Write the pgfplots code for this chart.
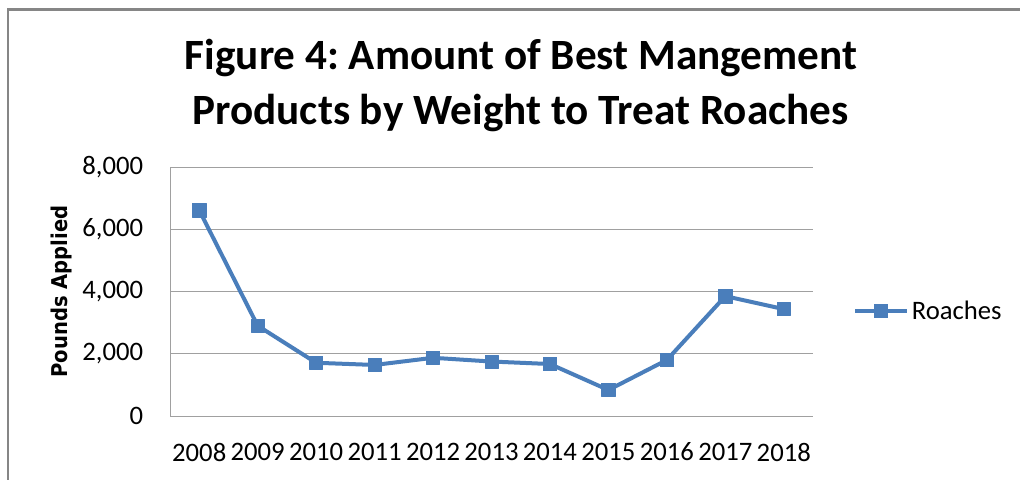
\documentclass[border=0pt]{standalone}
\usepackage{fontspec}
\setmainfont{Carlito}
\newfontfamily\labfont{DejaVu Sans Condensed}
\usepackage{pgfplots}
\pgfplotsset{compat=1.18}
\definecolor{xlblue}{HTML}{4A7EBB}
\definecolor{gridgray}{HTML}{A0A0A0}
\definecolor{framegray}{HTML}{868686}
\frenchspacing
\begin{document}
\begin{tikzpicture}
\path[use as bounding box] (0,0) rectangle (765pt,359.25pt);
\draw[framegray, line width=2pt] (6pt,-2pt) -- (6pt,352.3pt) -- (767pt,352.3pt);
\node[font=\fontsize{32.4}{38}\selectfont\bfseries, anchor=base, inner sep=0pt] at (390.75pt,307.3pt) {Figure 4: Amount of Best Mangement};
\node[font=\fontsize{32.4}{38}\selectfont\bfseries, anchor=base, inner sep=0pt] at (390.4pt,265.5pt) {Products by Weight to Treat Roaches};
\begin{axis}[
  at={(127.5pt,47.25pt)}, anchor=south west,
  scale only axis, width=482.25pt, height=186.75pt,
  xmin=-0.5, xmax=10.5, ymin=0, ymax=8000,
  xtick={0,1,2,3,4,5,6,7,8,9,10},
  xticklabels={2008,2009,2010,2011,2012,2013,2014,2015,2016,2017,2018},
  ytick={0,2000,4000,6000,8000},
  ymajorgrids, grid style={gridgray, line width=0.75pt},
  axis x line=bottom, axis y line=left,
  axis line style={-, gridgray, line width=0.75pt},
  major tick length=0pt,
  y tick label style={anchor=east, inner sep=0pt, xshift=-20pt},
  x tick label style={anchor=north, inner sep=0pt, yshift=-20pt},
  /pgf/number format/assume math mode=true,
  /pgf/number format/1000 sep={,},
  scaled y ticks=false,
  tick label style={font=\fontsize{20}{24}\selectfont},
  ylabel={Pounds Applied},
  ylabel style={at={(axis description cs:-0.168,0.5)}, anchor=center, font=\labfont\bfseries\fontsize{16.3}{19}\selectfont},
  legend style={at={(axis description cs:1.062,0.4217)}, anchor=west, draw=none, fill=none, inner sep=0pt, font=\fontsize{20}{24}\selectfont},
  legend image code/.code={\draw[mark repeat=2,mark phase=2,#1] plot coordinates {(0pt,0pt) (19.5pt,0pt) (39pt,0pt)};},
]
\addplot[xlblue, line width=3pt, line join=round, mark=square*, mark size=5pt, mark options={solid, fill=xlblue, line width=0.5pt}]
  coordinates {(0,6610) (1,2900) (2,1710) (3,1640) (4,1870) (5,1750) (6,1670) (7,835) (8,1800) (9,3850) (10,3435)};
\addlegendentry{Roaches}
\end{axis}
\end{tikzpicture}
\end{document}
